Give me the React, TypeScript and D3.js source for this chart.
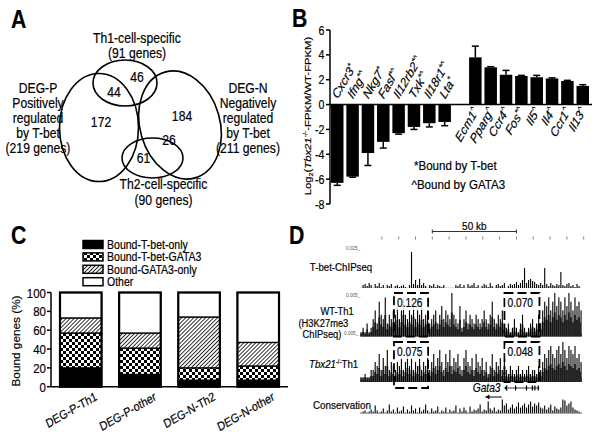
import React from 'react';
import * as d3 from 'd3';

const FONT = '"Liberation Sans", Arial, Helvetica, sans-serif';
const SX = 0.85;

// ---------------- Panel A (Venn) ----------------
const vennTopLabel = ['Th1-cell-specific', '(91 genes)'];
const vennLeftLabel = ['DEG-P', 'Positively', 'regulated', 'by T-bet', '(219 genes)'];
const vennRightLabel = ['DEG-N', 'Negatively', 'regulated', 'by T-bet', '(211 genes)'];
const vennBottomLabel = ['Th2-cell-specific', '(90 genes)'];
const vennCounts = [46, 44, 172, 184, 61, 26];

// ---------------- Panel B ----------------
const negGenes = ['Cxcr3', 'Ifng', 'Nkg7', 'Fasl', 'Il12rb2', 'Txk', 'Il18r1', 'Lta'];
const negMarks = ['*', '*^', '*', '*^', '*^', '*^', '*^', '*'];
const negValues = [-6.3, -5.8, -3.9, -3.0, -2.3, -1.8, -1.5, -1.4];
const negErrors = [0.2, 0.05, 1.0, 0.5, 0.08, 0.2, 0.3, 0.3];
const posGenes = ['Ecm1', 'Pparg', 'Ccr4', 'Fos', 'Il5', 'Il4', 'Ccr1', 'Il13'];
const posMarks = ['^', '^', '^', '*^', '^', '^', '^', '^'];
const posValues = [3.8, 3.0, 2.4, 2.3, 2.2, 2.1, 1.9, 1.5];
const posErrors = [0.9, 0.05, 0.35, 0.05, 0.15, 0.05, 0.05, 0.1];
const bTicks = [-8, -6, -4, -2, 0, 2, 4, 6];

// ---------------- Panel C ----------------
const cCategories = ['DEG-P-Th1', 'DEG-P-other', 'DEG-N-Th2', 'DEG-N-other'];
const cTbetOnly = [20, 13, 7, 7];
const cTbetGata3 = [37, 28, 13, 15];
const cGata3Only = [16, 16, 54, 25];
const cOther = [27, 43, 26, 53];
const cLegend = ['Bound-T-bet-only', 'Bound-T-bet-GATA3', 'Bound-GATA3-only', 'Other'];
const cTicks = [0, 20, 40, 60, 80, 100];

// ---------------- Panel D ----------------
const dRulerKb = [20, 30, 40, 50, 60, 70, 80, 90, 100, 110, 120, 130, 140];
const dScaleBarKb = [50, 100];
const tbetTrack = [
  0, 3, 4, 2, 5, 3, 0, 4, 2, 5, 1, 3, 0, 3, 2, 4, 0, 2, 3, 1,
  2, 3, 1, 0, 3, 36, 4, 8, 3, 9, 3, 5, 2, 0, 3, 2, 4, 1, 3, 2,
  1, 3, 0, 0, 0, 0, 0, 3, 2, 4, 1, 3, 0, 4, 2, 3, 5, 1, 3, 0,
  2, 4, 3, 1, 5, 2, 0, 3, 4, 2, 3, 5, 0, 2, 4, 3, 4, 6, 3, 5,
  8, 20, 5, 8, 9, 7, 6, 4, 3, 5, 3, 20, 4, 2, 5, 3, 2, 4, 3, 16,
  3, 2, 4, 5, 2, 3, 1, 4, 2, 0,
];
const wtTrack = [
  1, 2, 1, 3, 1, 2,
  4, 6, 3, 8, 5, 4, 9, 3, 5, 4, 6,
  5, 7, 4, 6, 9, 5, 4, 6, 5, 8, 4, 6, 5, 7, 4, 5, 6, 3,
  4, 5, 6, 3, 5, 7, 4, 6, 5, 4, 10, 5,
  4, 3, 7, 2, 4, 6, 3, 5, 4, 3, 5, 4,
  3, 4, 6, 4, 3, 5, 8, 4, 3, 5, 4, 6, 3,
  2, 3, 1, 2, 4, 2, 1, 3, 5, 2, 1, 2, 3, 4, 2, 3, 5, 3,
  6, 8, 7, 9, 6, 8, 10, 7, 9, 8, 6, 9, 7, 10, 8, 6, 9, 7, 8, 6,
];
const koTrack = [
  1, 1, 2, 1, 1, 3,
  3, 5, 4, 7, 3, 6, 4, 8, 3, 5, 4,
  3, 5, 4, 6, 3, 5, 7, 4, 6, 3, 5, 4, 8, 3, 5, 4, 6, 3,
  5, 7, 4, 6, 8, 5, 3, 7, 5, 8, 4, 6,
  5, 7, 4, 3, 6, 8, 5, 4, 6, 3, 7, 5,
  4, 6, 3, 5, 2, 4, 7, 3, 5, 4, 6, 3, 5,
  3, 2, 4, 3, 2, 3, 4, 2, 3, 2, 3, 4, 2, 3, 3, 2, 4, 3,
  5, 7, 6, 8, 9, 7, 6, 8, 9, 7, 10, 8, 6, 9, 8, 7, 9, 6, 7, 5,
];
const consTrack = [
  1, 2, 3, 1, 2, 4, 2, 8, 3, 1, 2, 5, 1, 3, 9, 2, 4, 1, 6, 2,
  3, 7, 1, 4, 2, 8, 3, 5, 1, 6, 2, 4, 9, 3, 1, 5, 2, 3, 7, 1,
  3, 2, 6, 1, 4, 2, 3, 8, 1, 5, 2, 6, 3, 1, 7, 2, 4, 3, 5, 9,
  2, 4, 3, 12, 5, 3, 6, 2, 4, 3, 14, 8, 10, 4, 6, 9, 5, 7, 11, 6,
  8, 10, 6, 9, 12, 7, 10, 8, 11, 6, 5, 8, 4, 6, 9, 3, 7, 5, 4, 6,
  14, 13, 8, 10, 12, 6, 4, 3, 2, 1,
];
const dBoxesKb = [[27.2, 47.5], [92.9, 113.7]];
const wtBoxValues = ['0.126', '0.070'];
const koBoxValues = ['0.075', '0.048'];
const gata3Kb = [93, 113.7];
const gata3ExonsKb = [94, 99.5, 106, 109.5, 111, 113];

function Txt({ x, y, rot = 0, size = 12, anchor = 'start', children, ...rest }: any) {
  const a = (rot * Math.PI) / 180;
  const r = rot ? (Math.atan2(SX * Math.sin(a), Math.cos(a)) * 180) / Math.PI : 0;
  return (
    <text
      transform={`translate(${x},${y}) scale(${SX},1)${r ? ` rotate(${r})` : ''}`}
      fontSize={size}
      textAnchor={anchor}
      fontFamily={FONT}
      fill="#000"
      stroke={rest.fill || '#000'}
      strokeWidth={size > 8 ? 0.2 : 0}
      {...rest}
    >
      {children}
    </text>
  );
}

function PanelA() {
  const fs = 14.3;
  return (
    <g>
      <Txt x={11} y={28} size={25} fontWeight="bold">A</Txt>
      <ellipse cx={99} cy={127.5} rx={39.5} ry={54} fill="none" stroke="#000" strokeWidth={1.6} />
      <ellipse cx={125} cy={83} rx={32} ry={23} fill="none" stroke="#000" strokeWidth={1.6} />
      <ellipse cx={180} cy={125} rx={40} ry={55} fill="none" stroke="#000" strokeWidth={1.6} transform="rotate(-16 180 125)" />
      <ellipse cx={152.5} cy={158} rx={30.5} ry={20} fill="none" stroke="#000" strokeWidth={1.6} />
      {vennTopLabel.map((t, i) => (
        <Txt key={t} x={137} y={43 + i * 14.5} size={fs} anchor="middle">{t}</Txt>
      ))}
      {vennLeftLabel.map((t, i) => (
        <Txt key={t} x={38} y={93 + i * 15} size={fs} anchor="middle">{t}</Txt>
      ))}
      {vennRightLabel.map((t, i) => (
        <Txt key={t} x={248} y={93 + i * 15} size={fs} anchor="middle">{t}</Txt>
      ))}
      {vennBottomLabel.map((t, i) => (
        <Txt key={t} x={163.5} y={188.5 + i * 16} size={fs} anchor="middle">{t}</Txt>
      ))}
      {[[137, 82], [114, 96.5], [101, 127], [182, 120.5], [143.5, 163], [169, 144.5]].map((p, i) => (
        <Txt key={i} x={p[0]} y={p[1]} size={fs} anchor="middle">{vennCounts[i]}</Txt>
      ))}
    </g>
  );
}

function GeneLabel({ gene, mark, x, y, anchor }: any) {
  return (
    <Txt x={x} y={y} rot={-60} size={13.2} anchor={anchor} fontStyle="italic">
      {gene}
      <tspan fontSize={8.5} dy={-4.5}>{mark}</tspan>
    </Txt>
  );
}

function PanelB() {
  const y = d3.scaleLinear().domain([-8, 6]).range([204, 30]);
  const x = d3.scaleBand<string>().domain(d3.range(17).map(String)).range([331, 589]).paddingInner(0.186).paddingOuter(0);
  const bw = x.bandwidth();
  const neg = negValues.map((v, i) => ({ v, e: -negErrors[i], gene: negGenes[i], mark: negMarks[i], k: String(i) }));
  const pos = posValues.map((v, i) => ({ v, e: posErrors[i], gene: posGenes[i], mark: posMarks[i], k: String(i + 9) }));
  const all = [...neg, ...pos];
  const y0 = y(0);
  return (
    <g>
      <Txt x={292} y={27} size={25} fontWeight="bold">B</Txt>
      <line x1={330} x2={330} y1={y(6)} y2={y(-8)} stroke="#000" strokeWidth={1.5} />
      {bTicks.map((t) => (
        <g key={t}>
          <line x1={326} x2={330} y1={y(t)} y2={y(t)} stroke="#000" strokeWidth={1.5} />
          <Txt x={324.5} y={y(t) + 4.5} size={12.5} anchor="end">{t}</Txt>
        </g>
      ))}
      {all.map((d) => {
        const xx = x(d.k)!;
        const c = xx + bw / 2;
        const top = Math.min(y(d.v), y0);
        const h = Math.abs(y(d.v) - y0);
        const ye = y(d.v + d.e);
        return (
          <g key={d.k}>
            <line x1={c} x2={c} y1={y(d.v)} y2={ye} stroke="#000" strokeWidth={1.5} />
            <line x1={c - 3.5} x2={c + 3.5} y1={ye} y2={ye} stroke="#000" strokeWidth={1.5} />
            <rect x={xx} y={top} width={bw} height={h} fill="#000" />
          </g>
        );
      })}
      <line x1={330} x2={592} y1={y0} y2={y0} stroke="#000" strokeWidth={1.5} />
      {neg.map((d) => (
        <GeneLabel key={d.k} gene={d.gene} mark={d.mark} x={x(d.k)! + bw / 2 + 0.5} y={y0 - 5} anchor="start" />
      ))}
      {pos.map((d) => (
        <GeneLabel key={d.k} gene={d.gene} mark={d.mark} x={x(d.k)! + bw / 2 + 3.5} y={y0 + 7} anchor="end" />
      ))}
      <Txt x={310.5} y={116} rot={-90} size={11.3} anchor="middle">
        Log<tspan fontSize={7} dy={3}>2</tspan>
        <tspan dy={-3}>(</tspan>
        <tspan fontStyle="italic">Tbx21</tspan>
        <tspan fontSize={7} dy={-4}>-/-</tspan>
        <tspan dy={4}>-FPKM/WT-FPKM)</tspan>
      </Txt>
      <Txt x={414} y={170} size={13.6}>*Bound by T-bet</Txt>
      <Txt x={411.5} y={188.5} size={13.6}>^Bound by GATA3</Txt>
    </g>
  );
}

function PanelC() {
  const x = d3.scaleBand<string>().domain(cCategories).range([51, 288]).paddingInner(0.297).paddingOuter(0.152);
  const y = d3.scaleLinear().domain([0, 100]).range([386.7, 292.5]);
  const keys = ['tbetOnly', 'tbetGata3', 'gata3Only', 'other'];
  const rows = cCategories.map((c, i) => ({ cat: c, tbetOnly: cTbetOnly[i], tbetGata3: cTbetGata3[i], gata3Only: cGata3Only[i], other: cOther[i] }));
  const stacked = d3.stack<any>().keys(keys)(rows);
  const fills = ['#000', 'url(#checker)', 'url(#hatch)', '#fff'];
  const bw = x.bandwidth();
  return (
    <g>
      <Txt x={11} y={244} size={25} fontWeight="bold">C</Txt>
      {cLegend.map((t, i) => {
        const ry = 244.5 + i * 12.4;
        return (
          <g key={t}>
            <rect x={83} y={ry - 4} width={20} height={8} fill={fills[i]} stroke="#000" strokeWidth={1.5} />
            <Txt x={107} y={ry + 4.3} size={12.4}>{t}</Txt>
          </g>
        );
      })}
      {stacked.map((layer, li) =>
        layer.map((d: any) => (
          <rect key={li + d.data.cat} x={x(d.data.cat)} y={y(d[1])} width={bw} height={y(d[0]) - y(d[1])} fill={fills[li]} stroke="#000" strokeWidth={1.3} />
        ))
      )}
      {cCategories.map((c) => (
        <rect key={c} x={x(c)} y={y(100)} width={bw} height={y(0) - y(100)} fill="none" stroke="#000" strokeWidth={2.2} />
      ))}
      <line x1={51} x2={51} y1={y(100)} y2={y(0)} stroke="#000" strokeWidth={1.5} />
      <line x1={51} x2={288} y1={y(0)} y2={y(0)} stroke="#000" strokeWidth={1.5} />
      {cTicks.map((t) => (
        <g key={t}>
          <line x1={47} x2={51} y1={y(t)} y2={y(t)} stroke="#000" strokeWidth={1.5} />
          <Txt x={46} y={y(t) + 5} size={13.5} anchor="end">{t}</Txt>
        </g>
      ))}
      <Txt x={20} y={341} rot={-90} size={11.8} anchor="middle">Bound genes (%)</Txt>
      {cCategories.map((c) => (
        <Txt key={c} x={x(c)! + bw / 2 + 17} y={399.5} rot={-30} size={12.5} anchor="end">{c}</Txt>
      ))}
    </g>
  );
}

function Track({ data, x0, x1, base, maxH, maxV, shade = 0 }: any) {
  const x = d3.scaleBand<number>().domain(d3.range(data.length)).range([x0, x1]).paddingInner(0);
  const h = d3.scaleLinear().domain([0, maxV]).range([0, maxH]);
  const bw = x.bandwidth();
  const area = d3
    .area<number>()
    .x((_, i) => x(i)! + bw / 2)
    .y0(base)
    .y1((v) => base - h(v) * shade)
    .curve(d3.curveStep);
  return (
    <g>
      {shade > 0 && <path d={area(data) || ''} fill="#555" />}
      {data.map((v: number, i: number) => (
        <rect key={i} x={x(i)! + bw * 0.25} y={base - h(v)} width={bw * 0.55} height={h(v)} fill="#000" />
      ))}
    </g>
  );
}

function PanelD() {
  const x = d3.scaleLinear().domain([7, 139]).range([360, 582]);
  const wtTop = 293, wtBase = 336.5, koTop = 342, koBase = 382;
  const lf = 11;
  return (
    <g>
      <Txt x={289} y={244} size={25} fontWeight="bold">D</Txt>
      <line x1={x(dScaleBarKb[0])} x2={x(dScaleBarKb[1])} y1={231.5} y2={231.5} stroke="#333" strokeWidth={1} />
      <line x1={x(dScaleBarKb[0])} x2={x(dScaleBarKb[0])} y1={229.5} y2={233.5} stroke="#333" strokeWidth={1} />
      <line x1={x(dScaleBarKb[1])} x2={x(dScaleBarKb[1])} y1={229.5} y2={233.5} stroke="#333" strokeWidth={1} />
      <Txt x={x(75)} y={229.5} size={11.8} anchor="middle">50 kb</Txt>
      {dRulerKb.map((k) => (
        <line key={k} x1={x(k)} x2={x(k)} y1={236.5} y2={239.5} stroke="#666" strokeWidth={0.8} />
      ))}
      <Txt x={346} y={250} size={5.5} fill="#555">0.025_</Txt>
      <Txt x={341} y={271} size={11.4} anchor="middle">T-bet-ChIPseq</Txt>
      <Txt x={346} y={297} size={5.5} fill="#555">0.005_</Txt>
      <Txt x={337} y={314.5} size={lf} anchor="middle">WT-Th1</Txt>
      <Txt x={298.5} y={326.5} size={lf}>(H3K27me3</Txt>
      <Txt x={302.5} y={338} size={lf}>ChIPseq)</Txt>
      <Txt x={344} y={335} size={5.5} fill="#555">0.005_</Txt>
      <Txt x={309} y={367.5} size={11.4}>
        <tspan fontStyle="italic">Tbx21</tspan>
        <tspan fontSize={7} dy={-4}>-/-</tspan>
        <tspan dy={4}>Th1</tspan>
      </Txt>
      <Txt x={313} y={408.5} size={11.6}>Conservation</Txt>
      <line x1={360} x2={582} y1={287.5} y2={287.5} stroke="#ccc" strokeWidth={0.6} />
      <Track data={tbetTrack} x0={x(7)} x1={x(139)} base={288} maxH={36} maxV={36} />
      <rect x={360} y={wtBase - 3} width={222} height={3} fill="#777" />
      <Track data={wtTrack} x0={x(7)} x1={x(139)} base={wtBase} maxH={wtBase - wtTop} maxV={10} shade={0.55} />
      <rect x={360} y={koBase - 5} width={222} height={5} fill="#888" />
      <Track data={koTrack} x0={x(7)} x1={x(139)} base={koBase} maxH={koBase - koTop} maxV={10} shade={0.5} />
      <Track data={consTrack} x0={x(7)} x1={x(139)} base={413.5} maxH={15} maxV={15} />
      <line x1={360} x2={582} y1={413.5} y2={413.5} stroke="#999" strokeWidth={0.6} />
      {dBoxesKb.map((b, i) => (
        <g key={i}>
          <rect x={x(b[0])} y={wtTop} width={x(b[1]) - x(b[0])} height={wtBase - wtTop} fill="none" stroke="#000" strokeWidth={1.8} strokeDasharray="9,4" />
          <rect x={x(b[0]) + 1} y={wtTop + 3} width={28} height={14} fill="#fff" opacity={0.85} />
          <Txt x={x(b[0]) + 3} y={wtTop + 13.5} size={12}>{wtBoxValues[i]}</Txt>
          <rect x={x(b[0])} y={koTop} width={x(b[1]) - x(b[0])} height={(i === 0 ? 388 : 382) - koTop} fill="none" stroke="#000" strokeWidth={1.8} strokeDasharray="9,4" />
          <rect x={x(b[0]) + 1} y={koTop + 3} width={28} height={14} fill="#fff" opacity={0.85} />
          <Txt x={x(b[0]) + 3} y={koTop + 13.5} size={12}>{koBoxValues[i]}</Txt>
        </g>
      ))}
      <line x1={x(gata3Kb[0])} x2={x(gata3Kb[1])} y1={388} y2={388} stroke="#000" strokeWidth={0.8} />
      {gata3ExonsKb.map((k) => (
        <line key={k} x1={x(k)} x2={x(k)} y1={385.5} y2={390.5} stroke="#000" strokeWidth={1.2} />
      ))}
      <path d={`M${x(gata3Kb[0])},388 l3,-2 M${x(gata3Kb[0])},388 l3,2`} stroke="#000" strokeWidth={0.8} fill="none" />
      <Txt x={500.5} y={392} size={12} anchor="end" fontStyle="italic">Gata3</Txt>
      <line x1={x(91.3)} x2={x(81.6)} y1={397} y2={397} stroke="#000" strokeWidth={1} />
      <path d={`M${x(81.6)},397 l4,-2.5 l0,5 z`} fill="#000" />
    </g>
  );
}

export default function App() {
  return (
    <svg width={600} height={436} style={{ position: 'absolute', left: 0, top: 0, background: '#fff' }}>
      <defs>
        <pattern id="checker" width={6} height={6} patternUnits="userSpaceOnUse">
          <rect width={6} height={6} fill="#fff" />
          <rect width={3} height={3} fill="#000" />
          <rect x={3} y={3} width={3} height={3} fill="#000" />
        </pattern>
        <pattern id="hatch" width={2.8} height={2.8} patternUnits="userSpaceOnUse" patternTransform="rotate(45)">
          <rect width={2.8} height={2.8} fill="#fff" />
          <line x1={0} y1={0} x2={0} y2={2.8} stroke="#000" strokeWidth={1.6} />
        </pattern>
      </defs>
      <rect width={600} height={436} fill="#fff" />
      <PanelA />
      <PanelB />
      <PanelC />
      <PanelD />
    </svg>
  );
}
